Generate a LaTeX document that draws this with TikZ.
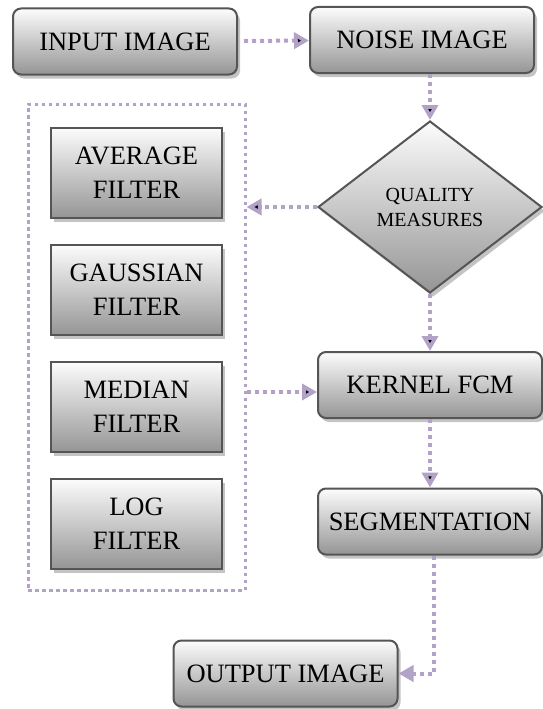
\documentclass[tikz,border=0pt]{standalone}
\usepackage{fontspec}
\setmainfont{Liberation Serif}
\usetikzlibrary{arrows.meta,positioning,shapes.geometric,shadows}
\definecolor{flowpurple}{HTML}{B3A2C7}
\definecolor{boxline}{HTML}{555555}
\definecolor{boxtop}{HTML}{FCFCFC}
\definecolor{boxbottom}{HTML}{959595}
\definecolor{shadowgray}{HTML}{C4C4C4}

\begin{document}
\begin{tikzpicture}[x=1pt, y=-1pt, node distance=25pt,
 block/.style = {draw=boxline, line width=2pt, rectangle, rounded corners=8pt,
   top color=boxtop, bottom color=boxbottom, minimum height=66pt, minimum width=224pt,
   inner xsep=2pt, align=center, font=\fontsize{26.5}{34}\selectfont,
   drop shadow={shadow xshift=3pt, shadow yshift=-4pt, fill=shadowgray, opacity=1}},
 filt/.style = {block, sharp corners, minimum height=90pt, minimum width=171pt},
 test/.style = {block, diamond, sharp corners, minimum width=224pt, minimum height=172pt,
   inner sep=0pt, font=\fontsize{20}{25}\selectfont},
 frame/.style = {draw=flowpurple, line width=3pt, dash pattern=on 3.5pt off 3.5pt},
 flow/.style = {draw=flowpurple, line width=4pt, dash pattern=on 4pt off 4pt,
   -{Triangle[length=15pt,width=16pt]}},
                        ]
    \useasboundingbox (0,0) rectangle (542,709);

    \node [block]                 (input)   at (125,41.5)  {INPUT IMAGE};
    \node [block]                 (noise)   at (422,40)    {NOISE IMAGE};
    \node [test]                  (quality) at (430,207)   {QUALITY\\ MEASURES};
    \node [frame, minimum width=217pt, minimum height=486pt] (filters) at (136.5,347) {};
    \node [filt]                  (avg)     at (136.5,173) {AVERAGE\\ FILTER};
    \node [filt, below=of avg]    (gauss)   {GAUSSIAN\\ FILTER};
    \node [filt, below=of gauss]  (median)  {MEDIAN\\ FILTER};
    \node [filt, below=of median] (log)     {LOG\\ FILTER};
    \node [block]                 (kfcm)    at (430,385)   {KERNEL FCM};
    \node [block]                 (segment) at (430,521.5) {SEGMENTATION};
    \node [block]                 (output)  at (285.5,673.5) {OUTPUT IMAGE};

%% paths
    \path[flow] (input)   edge[shorten <=6pt] (noise)
                (quality.north |- noise.south) edge (quality.north)
                (quality.west) edge (quality.west -| filters.east)
                (quality.south) edge (kfcm.north)
                ([yshift=-7pt]kfcm.west -| filters.east) edge ([yshift=-7pt]kfcm.west)
                (kfcm)    edge (segment)
                ([xshift=4pt]segment.south) |- (output.east)
                ;
\end{tikzpicture}
\end{document}
